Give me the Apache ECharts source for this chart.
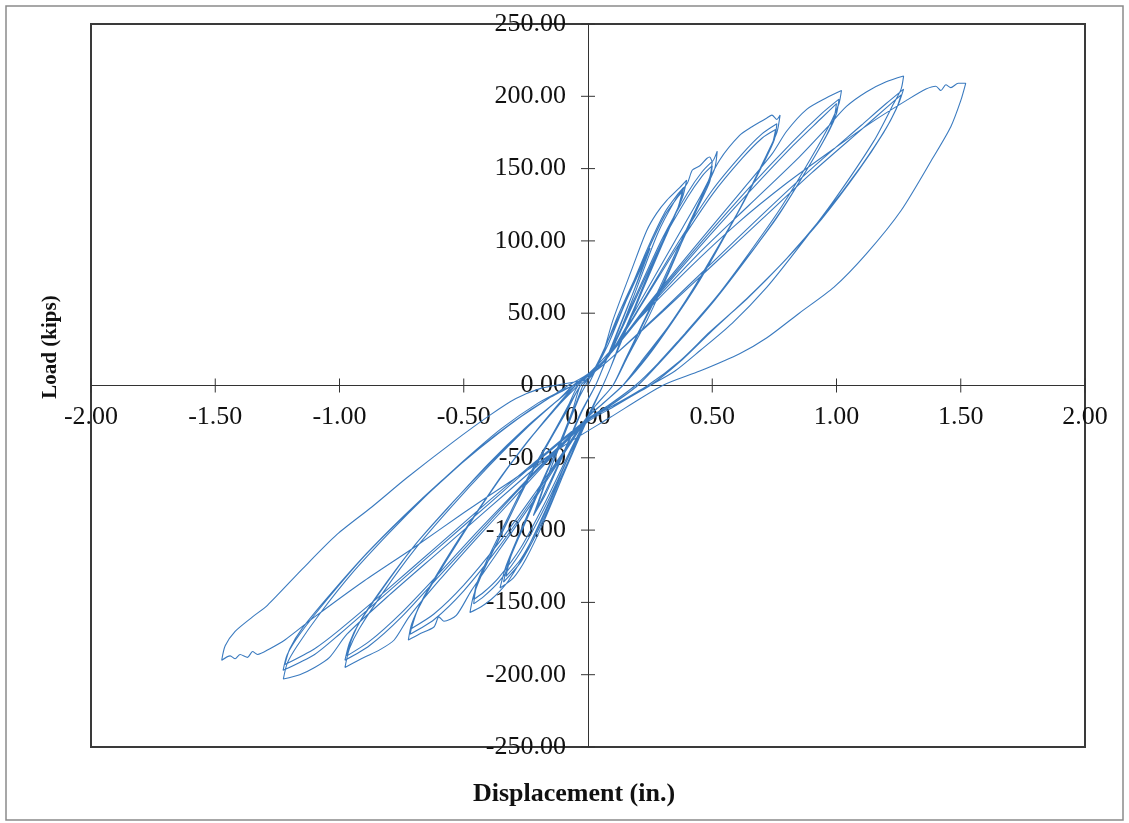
<!DOCTYPE html>
<html><head><meta charset="utf-8">
<script src="https://cdn.jsdelivr.net/npm/echarts@6/dist/echarts.min.js"></script>
<style>html,body{margin:0;padding:0;background:#fff}#c{width:1129px;height:823px}</style>
</head><body><div id="c"></div>
<script>
// Axis ranges (in., kips) and tick values
const xRange = [-2, 2, 0.5];
const yRange = [-250, 250, 50];
const xTicks = [-2, -1.5, -1, -0.5, 0, 0.5, 1, 1.5, 2];
const yTicks = [-250, -200, -150, -100, -50, 0, 50, 100, 150, 200, 250];
const xTitle = 'Displacement (in.)';
const yTitle = 'Load (kips)';

// Hysteresis path, grouped by amplitude: [displacement, load]
const loops025 = [[0,0],[0.05,18],[0.12,48],[0.2,78],[0.25,95],[0.2,72],[0.12,38],[0.05,8],[0.03,0],[-0.03,-20],[-0.1,-48],[-0.17,-75],[-0.22,-90],[-0.17,-66],[-0.1,-36],[-0.04,-10],[-0.01,0],
[0.04,16],[0.12,46],[0.2,76],[0.24,92],[0.19,68],[0.12,37],[0.05,8],[0.03,0],[-0.03,-19],[-0.1,-47],[-0.17,-73],[-0.21,-87],[-0.16,-62],[-0.1,-35],[-0.04,-10],[-0.02,0]];

const loops040 = [[0.02,8],[0.06,22],[0.1,45],[0.18,82],[0.236,107],[0.276,119],[0.317,128],[0.37,137],[0.397,142],[0.38,130],[0.3,100],[0.22,68],[0.15,38],[0.09,12],[0.06,0],[0.02,-14],[-0.03,-32],[-0.1,-62],[-0.18,-95],[-0.25,-120],[-0.3,-133],[-0.354,-140],[-0.33,-125],[-0.27,-100],[-0.2,-72],[-0.12,-42],[-0.06,-18],[-0.02,0],
[0.03,12],[0.08,28],[0.15,58],[0.24,95],[0.31,120],[0.36,132],[0.385,137],[0.37,126],[0.3,98],[0.22,66],[0.15,37],[0.09,12],[0.06,0],[0.02,-15],[-0.04,-38],[-0.12,-70],[-0.2,-100],[-0.27,-122],[-0.34,-136],[-0.32,-122],[-0.26,-97],[-0.19,-69],[-0.12,-42],[-0.06,-18],[-0.02,0],
[0.03,12],[0.08,28],[0.15,57],[0.24,93],[0.31,118],[0.36,130],[0.38,134],[0.36,122],[0.29,95],[0.21,63],[0.14,35],[0.09,12],[0.06,0],[0.02,-15],[-0.04,-37],[-0.12,-68],[-0.2,-98],[-0.27,-120],[-0.33,-132],[-0.31,-118],[-0.25,-94],[-0.18,-66],[-0.11,-38],[-0.06,-16],[-0.03,0]];

const loops050 = [[0.03,10],[0.09,22],[0.18,60],[0.28,105],[0.35,128],[0.40,140],[0.42,149],[0.45,152],[0.478,157],[0.49,158],[0.50,155],[0.52,162],[0.51,150],[0.47,135],[0.4,108],[0.32,76],[0.24,46],[0.16,20],[0.1,0],[0.03,-14],[0.0,-22],[-0.08,-50],[-0.16,-82],[-0.25,-115],[-0.32,-135],[-0.354,-142],[-0.39,-148],[-0.43,-153],[-0.475,-157],[-0.46,-145],[-0.42,-128],[-0.34,-100],[-0.25,-68],[-0.16,-40],[-0.08,-16],[-0.03,0],
[0.03,10],[0.09,24],[0.2,65],[0.3,102],[0.4,133],[0.46,148],[0.50,155],[0.49,144],[0.45,128],[0.38,102],[0.3,72],[0.22,43],[0.15,18],[0.1,0],[0.03,-14],[0.0,-22],[-0.08,-50],[-0.17,-83],[-0.27,-115],[-0.36,-136],[-0.42,-146],[-0.46,-151],[-0.45,-140],[-0.41,-124],[-0.33,-96],[-0.24,-65],[-0.15,-37],[-0.08,-15],[-0.03,0],
[0.03,10],[0.09,23],[0.2,63],[0.3,100],[0.4,130],[0.46,145],[0.50,152],[0.49,141],[0.45,126],[0.38,100],[0.3,70],[0.22,42],[0.15,17],[0.1,0],[0.03,-14],[0.0,-21],[-0.08,-48],[-0.17,-80],[-0.27,-112],[-0.36,-133],[-0.42,-143],[-0.46,-148],[-0.45,-138],[-0.41,-122],[-0.33,-94],[-0.24,-63],[-0.15,-36],[-0.08,-14],[-0.04,0]];

const loops075 = [[0.02,10],[0.09,22],[0.2,55],[0.35,100],[0.45,130],[0.53,156],[0.61,173],[0.66,179],[0.69,182],[0.72,185],[0.74,187],[0.76,184],[0.773,187],[0.76,175],[0.72,160],[0.64,132],[0.54,100],[0.44,70],[0.34,44],[0.24,20],[0.14,0],[0.05,-14],[0.0,-22],[-0.1,-48],[-0.22,-80],[-0.35,-112],[-0.47,-142],[-0.53,-159],[-0.58,-163],[-0.60,-160],[-0.62,-167],[-0.68,-172],[-0.723,-176],[-0.71,-165],[-0.67,-150],[-0.58,-124],[-0.47,-94],[-0.36,-66],[-0.24,-38],[-0.12,-14],[-0.04,0],
[0.02,10],[0.09,22],[0.22,58],[0.36,98],[0.5,135],[0.62,160],[0.7,174],[0.76,181],[0.75,170],[0.71,155],[0.63,128],[0.53,97],[0.43,68],[0.33,42],[0.23,19],[0.14,0],[0.05,-14],[0.0,-22],[-0.1,-47],[-0.22,-78],[-0.36,-112],[-0.5,-142],[-0.62,-162],[-0.716,-172],[-0.70,-161],[-0.66,-146],[-0.57,-120],[-0.46,-91],[-0.35,-63],[-0.23,-36],[-0.12,-13],[-0.05,0],
[0.02,10],[0.09,22],[0.22,57],[0.36,96],[0.5,132],[0.62,157],[0.7,171],[0.755,177],[0.74,166],[0.7,152],[0.62,125],[0.52,95],[0.42,66],[0.32,40],[0.22,18],[0.14,0],[0.05,-14],[0.0,-21],[-0.1,-46],[-0.22,-76],[-0.36,-109],[-0.5,-138],[-0.62,-158],[-0.71,-168],[-0.69,-157],[-0.65,-143],[-0.56,-117],[-0.45,-88],[-0.34,-61],[-0.22,-34],[-0.11,-12],[-0.05,0]];

const loops100 = [[0.02,10],[0.09,22],[0.25,58],[0.45,100],[0.62,135],[0.74,160],[0.80,176],[0.88,191],[0.96,199],[1.02,204],[1.01,195],[0.98,183],[0.9,158],[0.78,124],[0.65,92],[0.52,62],[0.4,38],[0.3,18],[0.2,0],[0.08,-15],[0.0,-24],[-0.15,-50],[-0.3,-78],[-0.45,-106],[-0.6,-135],[-0.72,-160],[-0.78,-176],[-0.84,-183],[-0.9,-188],[-0.978,-195],[-0.96,-182],[-0.92,-168],[-0.82,-142],[-0.7,-114],[-0.55,-84],[-0.4,-56],[-0.25,-30],[-0.12,-10],[-0.05,0],
[0.02,10],[0.09,22],[0.25,57],[0.45,98],[0.65,137],[0.82,168],[0.94,188],[1.01,198],[1.0,188],[0.97,176],[0.89,152],[0.77,119],[0.64,88],[0.51,59],[0.39,35],[0.29,16],[0.2,0],[0.08,-15],[0.0,-23],[-0.15,-49],[-0.3,-76],[-0.45,-104],[-0.6,-132],[-0.75,-160],[-0.88,-180],[-0.978,-190],[-0.96,-178],[-0.92,-164],[-0.82,-139],[-0.7,-111],[-0.55,-82],[-0.4,-54],[-0.25,-29],[-0.12,-10],[-0.05,0],
[0.02,10],[0.09,22],[0.25,56],[0.45,96],[0.65,134],[0.82,165],[0.94,185],[1.0,195],[0.99,185],[0.96,173],[0.88,149],[0.76,116],[0.63,86],[0.5,57],[0.38,34],[0.28,15],[0.19,0],[0.08,-14],[0.0,-23],[-0.15,-48],[-0.3,-75],[-0.45,-102],[-0.6,-130],[-0.75,-157],[-0.88,-177],[-0.97,-187],[-0.95,-175],[-0.91,-161],[-0.81,-136],[-0.69,-109],[-0.54,-80],[-0.39,-53],[-0.24,-28],[-0.12,-10],[-0.06,0]];

const loops125 = [[0.02,10],[0.09,22],[0.25,55],[0.45,92],[0.65,125],[0.85,158],[0.96,178],[1.04,193],[1.12,203],[1.20,210],[1.27,214],[1.26,205],[1.23,195],[1.15,169],[0.99,128],[0.85,96],[0.72,68],[0.58,43],[0.45,24],[0.35,10],[0.25,0],[0.1,-15],[0.0,-25],[-0.2,-55],[-0.4,-85],[-0.6,-115],[-0.8,-145],[-0.97,-172],[-1.04,-188],[-1.1,-195],[-1.16,-200],[-1.226,-203],[-1.21,-192],[-1.17,-180],[-1.08,-158],[-0.95,-130],[-0.8,-102],[-0.65,-76],[-0.5,-52],[-0.35,-30],[-0.2,-12],[-0.1,-3],[-0.06,0],
[0.03,10],[0.1,20],[0.3,52],[0.5,85],[0.7,118],[0.9,150],[1.1,180],[1.2,195],[1.27,205],[1.25,195],[1.2,178],[1.1,152],[0.95,118],[0.8,88],[0.65,62],[0.5,38],[0.38,18],[0.25,0],[0.1,-14],[0.0,-24],[-0.2,-52],[-0.4,-82],[-0.6,-112],[-0.8,-142],[-1.0,-172],[-1.1,-186],[-1.227,-197],[-1.21,-186],[-1.16,-172],[-1.05,-148],[-0.9,-118],[-0.75,-92],[-0.6,-68],[-0.45,-45],[-0.3,-25],[-0.15,-8],[-0.06,0],
[0.03,10],[0.1,20],[0.3,51],[0.5,83],[0.7,115],[0.9,147],[1.1,177],[1.2,192],[1.26,201],[1.24,191],[1.19,175],[1.09,149],[0.94,115],[0.79,86],[0.64,60],[0.49,37],[0.37,17],[0.24,0],[0.1,-14],[0.0,-23],[-0.2,-51],[-0.4,-80],[-0.6,-110],[-0.8,-140],[-1.0,-169],[-1.1,-182],[-1.22,-193],[-1.2,-182],[-1.15,-168],[-1.04,-145],[-0.89,-116],[-0.74,-90],[-0.59,-66],[-0.44,-44],[-0.29,-24],[-0.15,-8],[-0.08,0]];

const loops150 = [[0.0,8],[0.08,22],[0.2,45],[0.4,80],[0.6,112],[0.8,140],[1.0,165],[1.15,183],[1.28,197],[1.36,205],[1.40,207],[1.42,204],[1.44,208],[1.46,206],[1.49,209],[1.52,209],[1.50,197],[1.46,179],[1.39,158],[1.26,121],[1.12,91],[0.99,68],[0.85,50],[0.72,33],[0.61,22],[0.45,10],[0.30,0],[0.09,-22],[-0.1,-42],[-0.3,-65],[-0.5,-88],[-0.7,-112],[-0.9,-135],[-1.1,-160],[-1.22,-176],[-1.28,-182],[-1.33,-186],[-1.35,-184],[-1.37,-188],[-1.40,-186],[-1.42,-189],[-1.44,-187],[-1.474,-190],[-1.46,-180],[-1.42,-170],[-1.35,-160],[-1.29,-152],[-1.15,-127],[-1.01,-103],[-0.87,-84],[-0.73,-64],[-0.55,-40],[-0.39,-20],[-0.29,-9],[-0.19,-2],[-0.1,1],[0.0,4]];

const pathData = [].concat(loops025, loops040, loops050, loops075, loops100, loops125, loops150);

const FONT = '"Liberation Serif", "Times New Roman", serif';
const AX = '#333';
const TICK = 7;
const GRID = { left: 91, right: 44, top: 24, bottom: 76 };
const W = 1129, H = 823;
const gridW = W - GRID.left - GRID.right, gridH = H - GRID.top - GRID.bottom;

const chart = echarts.init(document.getElementById('c'), null, { renderer: 'canvas' });
chart.setOption({
  animation: false,
  backgroundColor: '#fff',
  grid: Object.assign({ show: true, borderColor: '#3a3a3a', borderWidth: 2, backgroundColor: 'transparent', outerBoundsMode: 'none', containLabel: false }, GRID),
  xAxis: {
    type: 'value', min: xRange[0], max: xRange[1], interval: xRange[2],
    position: 'bottom', offset: -gridH / 2,
    axisLine: { show: true, onZero: false, lineStyle: { color: AX, width: 1 } },
    axisTick: { show: false },
    axisLabel: { margin: 19, color: '#111', fontFamily: FONT, fontSize: 26, formatter: v => v.toFixed(2) },
    splitLine: { show: false }
  },
  yAxis: {
    type: 'value', min: yRange[0], max: yRange[1], interval: yRange[2],
    position: 'left', offset: -gridW / 2,
    axisLine: { show: true, onZero: false, lineStyle: { color: AX, width: 1 } },
    axisTick: { show: false },
    axisLabel: { margin: 22, color: '#111', fontFamily: FONT, fontSize: 26, formatter: v => v.toFixed(2) },
    splitLine: { show: false }
  },
  graphic: [
    { type: 'rect', shape: { x: 6, y: 6, width: 1117, height: 814 }, style: { fill: null, stroke: '#8a8a8a', lineWidth: 1.5 }, silent: true },
    { type: 'text', x: 574, y: 794, style: { text: xTitle, fontFamily: FONT, fontWeight: 'bold', fontSize: 26, fill: '#111', align: 'center', verticalAlign: 'middle' } },
    { type: 'text', x: 51, y: 347, rotation: Math.PI / 2, style: { text: yTitle, fontFamily: FONT, fontWeight: 'bold', fontSize: 21, fill: '#111', align: 'center', verticalAlign: 'middle' } }
  ],
  series: [
    {
      type: 'line', data: pathData, showSymbol: false, smooth: 0.25,
      lineStyle: { color: '#3a7abf', width: 1.1 }, z: 2
    },
    {
      // crossing tick marks on the horizontal axis
      type: 'custom', silent: true, clip: false, z: 3,
      data: xTicks.map(v => [v, 0]),
      renderItem: (params, api) => {
        const p = api.coord([api.value(0), api.value(1)]);
        return { type: 'line', shape: { x1: p[0], y1: p[1] - TICK, x2: p[0], y2: p[1] + TICK }, style: { stroke: AX, lineWidth: 1 } };
      }
    },
    {
      // crossing tick marks on the vertical axis
      type: 'custom', silent: true, clip: false, z: 3,
      data: yTicks.map(v => [0, v]),
      renderItem: (params, api) => {
        const p = api.coord([api.value(0), api.value(1)]);
        return { type: 'line', shape: { x1: p[0] - TICK, y1: p[1], x2: p[0] + TICK, y2: p[1] }, style: { stroke: AX, lineWidth: 1 } };
      }
    }
  ]
});
</script></body></html>
